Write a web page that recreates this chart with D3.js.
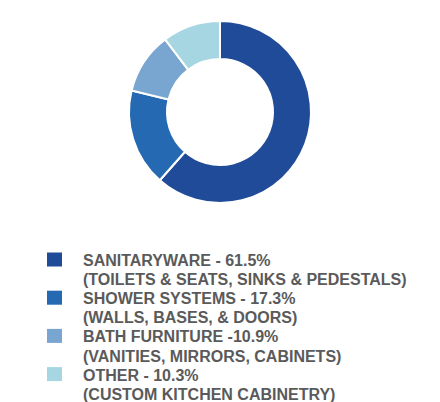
<!DOCTYPE html>
<html><head><meta charset="utf-8">
<script src="https://cdn.jsdelivr.net/npm/d3@7"></script>
<style>body{margin:0;background:#fff}</style>
</head><body>
<svg id="c" width="440" height="402"></svg>
<script>
const categories = ["SANITARYWARE - 61.5%", "SHOWER SYSTEMS - 17.3%", "BATH FURNITURE -10.9%", "OTHER - 10.3%"];
const subLabels = ["(TOILETS & SEATS, SINKS & PEDESTALS)", "(WALLS, BASES, & DOORS)", "(VANITIES, MIRRORS, CABINETS)", "(CUSTOM KITCHEN CABINETRY)"];
const values = [61.5, 17.3, 10.9, 10.3];
const colors = ["#1f4b98", "#2469b1", "#79a6d0", "#a6d6e2"];

const svg = d3.select("#c");
const cx = 220, cy = 112, R = 91, r = 53;
const pie = d3.pie().sort(null).value(d => d)(values);
const arc = d3.arc().innerRadius(r).outerRadius(R);
const g = svg.append("g").attr("transform", `translate(${cx},${cy})`);
g.selectAll("path").data(pie).join("path")
  .attr("d", arc).attr("fill", (d, i) => colors[i])
  .attr("stroke", "#fff").attr("stroke-width", 2);

const lg = svg.append("g");
const y0 = 266, step = 19.1;
const font = "Liberation Sans, Arial, sans-serif";
categories.forEach((c, i) => {
  const y = y0 + i * 2 * step;
  lg.append("rect").attr("x", 47).attr("y", y - 13.5).attr("width", 15).attr("height", 14).attr("fill", colors[i]);
  lg.append("text").attr("x", 83).attr("y", y)
    .attr("font-family", font).attr("font-weight", "bold")
    .attr("font-size", 16).attr("fill", "#5a5a5a").text(c);
  lg.append("text").attr("x", 83).attr("y", y + step)
    .attr("font-family", font).attr("font-weight", "bold")
    .attr("font-size", 16).attr("fill", "#5a5a5a").text(subLabels[i]);
});
</script>
</body></html>
